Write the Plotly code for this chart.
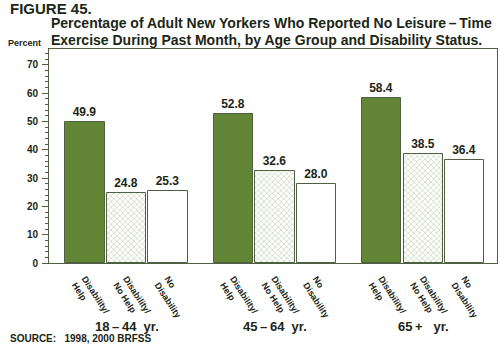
import plotly.graph_objects as go

age_groups = ["18\u2009\u2013\u200944  yr.", "45\u2009\u2013\u200964  yr.", "65\u2009+   yr."]
statuses = ["Disability/<br>Help", "Disability/<br>No Help", "No<br>Disability"]
help_vals = [49.9, 52.8, 58.4]
nohelp_vals = [24.8, 32.6, 38.5]
nodis_vals = [25.3, 28.0, 36.4]

GROUP_STEP = 3.58
FONT = "Liberation Sans"
DARK = "#1c2616"
GREEN = "#628636"
EDGE = "#4f5f42"

def xpos(b):
    return [g * GROUP_STEP + b for g in range(len(age_groups))]

fig = go.Figure()
series = [
    (help_vals, dict(color=GREEN, line=dict(color=EDGE, width=1))),
    (nohelp_vals, dict(color="white",
                       pattern=dict(shape="x", fgcolor="#a3bd8e", bgcolor="white", size=4, solidity=0.4),
                       line=dict(color=EDGE, width=1))),
    (nodis_vals, dict(color="white", line=dict(color=EDGE, width=1))),
]
for b, (vals, marker) in enumerate(series):
    fig.add_trace(go.Bar(
        x=xpos(b), y=vals, width=0.95, marker=marker,
        text=[f"{v:.1f}" for v in vals], textposition="outside",
        textfont=dict(family=FONT, size=12, color=DARK, weight="bold"),
        cliponaxis=False, showlegend=False,
    ))

tickvals = []
ticktext = []
for g in range(len(age_groups)):
    for b in range(len(statuses)):
        tickvals.append(g * GROUP_STEP + b)
        ticktext.append(statuses[b])

fig.update_layout(
    width=500, height=344,
    margin=dict(l=49, r=3, t=49, b=81),
    paper_bgcolor="white", plot_bgcolor="white",
    font=dict(family=FONT, color=DARK),
    bargap=0, barmode="overlay",
)
fig.update_xaxes(
    range=[-0.87, 9.94], tickmode="array", tickvals=tickvals, ticktext=ticktext,
    tickangle=57, ticks="", showgrid=False, zeroline=False, ticklabelstandoff=6,
    showline=True, linecolor=EDGE, linewidth=1, mirror=True,
    tickfont=dict(family=FONT, size=9, color=DARK, weight="bold"),
)
fig.update_yaxes(
    range=[0, 75.6], tickvals=[0, 10, 20, 30, 40, 50, 60, 70],
    ticks="outside", ticklen=6, tickcolor=EDGE, tickwidth=1, ticklabelstandoff=2,
    minor=dict(dtick=2, ticks="outside", ticklen=3, tickcolor=EDGE),
    showgrid=False, zeroline=False,
    showline=True, linecolor=EDGE, linewidth=1, mirror=True,
    tickfont=dict(family=FONT, size=10, color=DARK, weight="bold"),
)

def py(p):
    return (263 - p) / 214

def px(p):
    return (p - 49) / 448

anns = [
    dict(text="FIGURE 45.", x=px(8), y=py(9), size=15),
    dict(text="Percentage of Adult New Yorkers Who Reported No Leisure\u2009\u2013\u2009Time", x=px(49), y=py(23), size=14),
    dict(text="Exercise During Past Month, by Age Group and Disability Status.", x=px(49), y=py(40), size=14),
    dict(text="Percent", x=px(6), y=py(43), size=9),
    dict(text="SOURCE:\u00a0\u00a0 1998, 2000 BRFSS", x=px(8), y=py(338), size=10),
]
for a in anns:
    fig.add_annotation(text=a["text"], x=a["x"], y=a["y"], xref="paper", yref="paper",
                       xanchor="left", yanchor="middle", showarrow=False,
                       font=dict(family=FONT, size=a["size"], color=DARK, weight="bold"))
for g, lab in enumerate(age_groups):
    fig.add_annotation(text=lab, x=g * GROUP_STEP + 1, y=py(326), xref="x", yref="paper",
                       xanchor="center", yanchor="middle", showarrow=False,
                       font=dict(family=FONT, size=13, color=DARK, weight="bold"))

fig.write_html("out.html")
